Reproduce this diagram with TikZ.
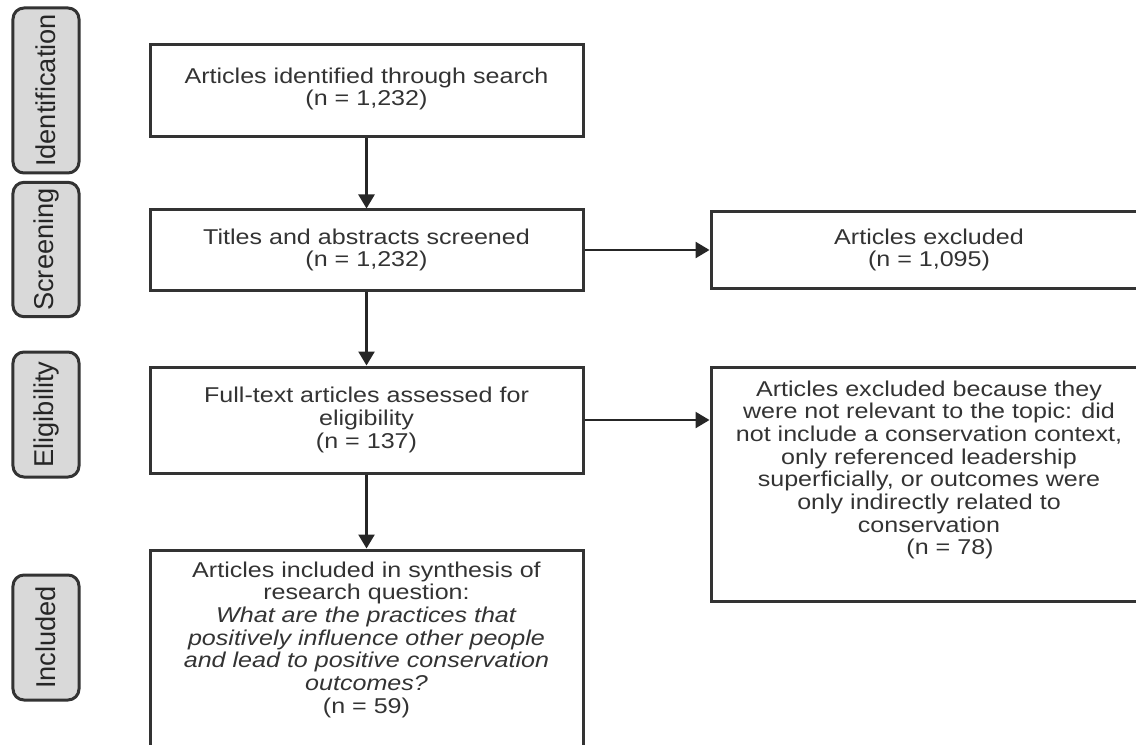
\documentclass[tikz,border=0pt]{standalone}
\usepackage{fontspec}
\setmainfont{Liberation Sans}
\newfontfamily\boxfont{Liberation Sans}[FakeStretch=1.17]
\usepackage{tikz}
\usetikzlibrary{arrows.meta, positioning}

\begin{document}
\begin{tikzpicture}[
    node distance=1.4cm,
    stagebox/.style={rectangle, draw=black!80, line width=0.06cm, minimum width=8.66cm, align=center, text=black!80, font=\boxfont\fontsize{12.2}{12.9}\selectfont},
    sidebox/.style={stagebox, minimum width=8.72cm},
    boxtext/.style={align=center, text=black!80, font=\boxfont\fontsize{12.2}{12.9}\selectfont},
    phase/.style={rectangle, draw=black!80, line width=0.06cm, rounded corners=0.22cm, fill=gray!30, minimum height=1.32cm, rotate=90, text=black!85, font=\fontsize{15.5}{18}\selectfont},
    arrow/.style={-{Triangle[width=0.32cm, length=0.28cm]}, line width=0.05cm, draw=black!85}
]
\useasboundingbox (0,0) rectangle (22.72,-14.9);
\clip (0,0) rectangle (22.72,-14.9);

% Main column
\node[stagebox, minimum height=1.84cm] (search) at (7.33,-1.82) {};
\node[boxtext, below=0.36cm of search.north] (searchtext) {Articles identified through search\\(n = 1,232)};
\node[stagebox, minimum height=1.6cm, below=1.4cm of search] (screen) {Titles and abstracts screened\\(n = 1,232)};
\node[stagebox, minimum height=2.12cm, below=1.48cm of screen] (elig) {Full-text articles assessed for\\eligibility\\(n = 137)};
\node[stagebox, minimum height=5.2cm, below=1.48cm of elig] (synth) {};
\node[boxtext, below=0.14cm of synth.north] (synthtext) {Articles included in synthesis of\\research question:\\\textit{What are the practices that}\\\textit{positively influence other people}\\\textit{and lead to positive conservation}\\\textit{outcomes?}\\(n = 59)};

% Exclusions
\node[sidebox, minimum height=1.52cm, right=2.5cm of screen] (excl1) {Articles excluded\\(n = 1,095)};
\node[sidebox, minimum height=4.68cm, right=2.5cm of elig.north east, anchor=north west] (excl2) {};
\node[boxtext, below=0.18cm of excl2.north] (excl2text) {Articles excluded because they\\were not relevant to the topic: did\\not include a conservation context,\\only referenced leadership\\superficially, or outcomes were\\only indirectly related to\\conservation\\\hspace*{0.84cm}(n = 78)};

% Phase labels
\node[phase, minimum width=3.3cm] (idphase) at (0.92,-1.81) {Identification};
\node[phase, minimum width=2.54cm] (scphase) at (0.92,-4.99) {Screening};
\node[phase, minimum width=2.5cm] (elphase) at (0.92,-8.29) {Eligibility};
\node[phase, minimum width=2.5cm] (inphase) at (0.92,-12.75) {Included};

% Arrows
\draw[arrow] (search) -- (screen);
\draw[arrow] (screen) -- (elig);
\draw[arrow] (elig) -- (synth);
\draw[arrow] (screen) -- (excl1);
\draw[arrow] (elig.east) -- (elig.east -| excl2.west);

\end{tikzpicture}
\end{document}
